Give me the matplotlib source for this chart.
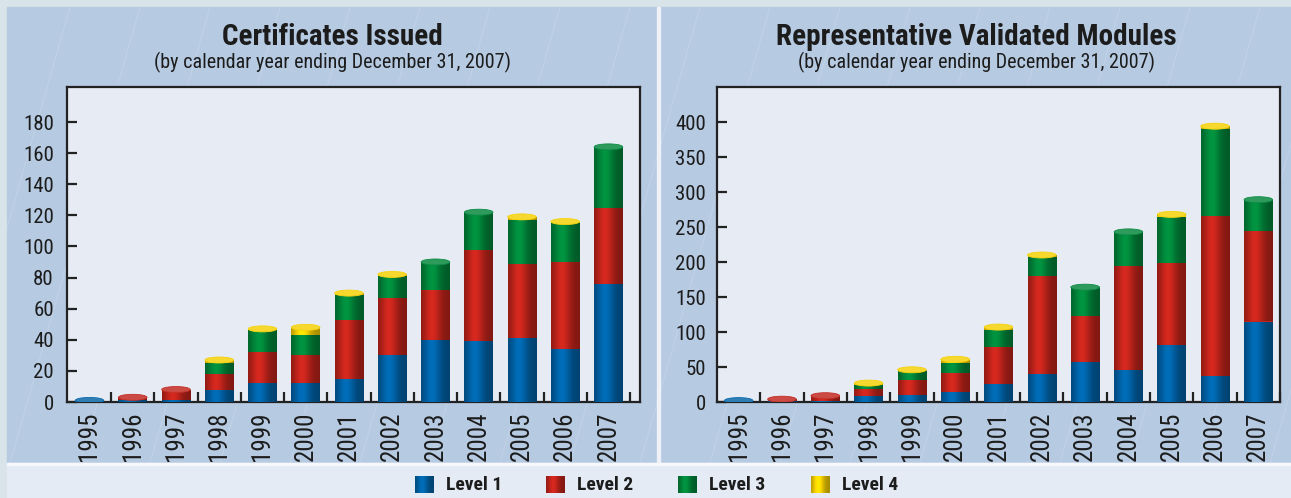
import numpy as np
import matplotlib
matplotlib.use('Agg')
import matplotlib.pyplot as plt
from matplotlib.patches import Ellipse, Rectangle
import matplotlib.colors as mcolors
from matplotlib import font_manager

# ---------------- data ----------------
years = ['1995', '1996', '1997', '1998', '1999', '2000', '2001',
         '2002', '2003', '2004', '2005', '2006', '2007']
levels = ['Level 1', 'Level 2', 'Level 3', 'Level 4']

cert_l1 = [1, 1, 1, 8, 12, 12, 15, 30, 40, 39, 41, 34, 76]
cert_l2 = [0, 2, 7, 10, 20, 18, 38, 37, 32, 59, 48, 56, 49]
cert_l3 = [0, 0, 0, 7, 14, 13, 16, 14, 18, 24, 28, 25, 39]
cert_l4 = [0, 0, 0, 2, 1, 5, 1, 1, 0, 0, 2, 1, 0]

mod_l1 = [2, 1, 1, 8, 10, 14, 26, 40, 57, 46, 82, 37, 115]
mod_l2 = [0, 3, 8, 10, 21, 27, 53, 140, 66, 148, 117, 229, 129]
mod_l3 = [0, 0, 0, 7, 13, 15, 24, 27, 41, 49, 66, 124, 45]
mod_l4 = [0, 0, 0, 2, 2, 5, 4, 3, 0, 0, 3, 4, 0]

cert_ticks = [0, 20, 40, 60, 80, 100, 120, 140, 160, 180]
mod_ticks = [0, 50, 100, 150, 200, 250, 300, 350, 400]

level_colors = ['#0062a6', '#c0241b', '#00853a', '#f5d000']

# ---------------- fonts ----------------
names = {f.name for f in font_manager.fontManager.ttflist}
FONT = 'Liberation Sans'
for cand in ['Roboto Condensed', 'Archivo Narrow', 'PT Sans Narrow',
             'Barlow Condensed', 'Liberation Sans Narrow']:
    if cand in names:
        FONT = cand
        break
plt.rcParams['font.family'] = [FONT, 'DejaVu Sans']
TXT = '#1c1c1c'

W, H = 1291, 498
fig = plt.figure(figsize=(W / 100, H / 100), dpi=100)
fig.patch.set_facecolor('#d9e3ea')


def frac(x0, y0, w, h):
    return [x0 / W, 1 - (y0 + h) / H, w / W, h / H]


# ---------------- background ----------------
bg = fig.add_axes([0, 0, 1, 1])
bg.set_axis_off()
bg.set_xlim(0, W)
bg.set_ylim(H, 0)
panel_col = '#b6cae2'
p1 = Rectangle((7, 7), 650, 456, color=panel_col, zorder=1)
p2 = Rectangle((660, 7), 631, 456, color=panel_col, zorder=1)
bg.add_patch(p1)
bg.add_patch(p2)
bg.add_patch(Rectangle((657, 7), 3, 456, color='#eef2f7', zorder=1))
bg.add_patch(Rectangle((7, 463), 1284, 35, color='#e5ebf4', zorder=1))
bg.add_patch(Rectangle((7, 463), 1284, 2, color='#f6f8fb', zorder=2))
for xs in np.arange(-200, 1400, 70):
    for p in (p1, p2):
        ln, = bg.plot([xs, xs + 130], [463, 7], color='white', lw=0.8,
                      alpha=0.14, zorder=1.5)
        ln.set_clip_path(p)


def shade(color, n=64):
    t = np.linspace(0, 1, n)
    f = 0.68 + 0.44 * np.exp(-((t - 0.38) / 0.3) ** 2)
    rgb = np.array(mcolors.to_rgb(color))
    img = np.clip(rgb[None, :] * f[:, None], 0, 1)
    return img[None, :, :]


def lighter(color, a=0.18):
    rgb = np.array(mcolors.to_rgb(color))
    return tuple(rgb + (1 - rgb) * a)


def draw_chart(rect, series, ymax, yticks, xlim, ypad):
    ax = fig.add_axes(frac(*rect))
    ax.set_facecolor('#e6ebf4')
    x = np.arange(len(years))
    bottom = np.zeros(len(years))
    top_color = [None] * len(years)
    for vals, col, lab in zip(series, level_colors, levels):
        vals = np.asarray(vals, float)
        bars = ax.bar(x, vals, bottom=bottom, width=0.66, color=col,
                      linewidth=0, zorder=2, label=lab)
        for i, b in enumerate(bars):
            if vals[i] <= 0:
                continue
            top_color[i] = col
            bx, by = b.get_x(), b.get_y()
            im = ax.imshow(shade(col), extent=[bx, bx + b.get_width(), by, by + b.get_height()],
                           aspect='auto', zorder=3, interpolation='bilinear')
            im.set_clip_path(b)
        bottom += vals
    ax.set_xlim(*xlim)
    ax.set_ylim(0, ymax)
    cap_h = 6.0 / (rect[3]) * ymax
    for i, tot in enumerate(bottom):
        if top_color[i] is None:
            continue
        ax.add_patch(Ellipse((x[i], tot), 0.66, cap_h, facecolor=lighter(top_color[i]),
                             edgecolor=lighter(top_color[i], 0.05), lw=0.6, zorder=4))
    ax.set_yticks(yticks)
    ax.set_yticklabels([str(v) for v in yticks])
    ax.tick_params(axis='y', direction='in', length=7, width=1.6, color='#222222',
                   labelsize=15, labelcolor=TXT, pad=ypad)
    ax.set_xticks(x)
    ax.set_xticklabels(years, rotation=90, fontsize=18, color=TXT)
    ax.tick_params(axis='x', which='major', length=0, pad=7)
    ax.set_xticks(np.arange(0.5, 13, 1), minor=True)
    ax.tick_params(axis='x', which='minor', direction='in', length=7, width=1.6,
                   color='#222222')
    for s in ax.spines.values():
        s.set_linewidth(1.6)
        s.set_color('#222222')
    return ax


draw_chart((67, 87, 573, 315), [cert_l1, cert_l2, cert_l3, cert_l4], 202.5,
           cert_ticks, (-0.52, 12.73), 9.5)
draw_chart((717, 87, 563, 315), [mod_l1, mod_l2, mod_l3, mod_l4], 450,
           mod_ticks, (-0.5, 12.5), 8)

# ---------------- titles ----------------
for cx, title in ((332, 'Certificates Issued'), (976, 'Representative Validated Modules')):
    fig.text(cx / W, 1 - 45 / H, title, ha='center', va='baseline',
             fontsize=21, fontweight='bold', color=TXT)
    fig.text(cx / W, 1 - 68 / H, '(by calendar year ending December 31, 2007)',
             ha='center', va='baseline', fontsize=14.5, color=TXT)

# ---------------- legend ----------------
for px0, col, lab in zip([415, 546, 678, 811], level_colors, levels):
    lax = fig.add_axes(frac(px0, 476, 19, 17))
    lax.imshow(shade(col), aspect='auto', extent=[0, 1, 0, 1], interpolation='bilinear')
    lax.set_axis_off()
    fig.text((px0 + 31) / W, 1 - 485 / H, lab, ha='left', va='center',
             fontsize=14, fontweight='bold', color=TXT)

fig.savefig('out.png', dpi=100, facecolor=fig.get_facecolor())
